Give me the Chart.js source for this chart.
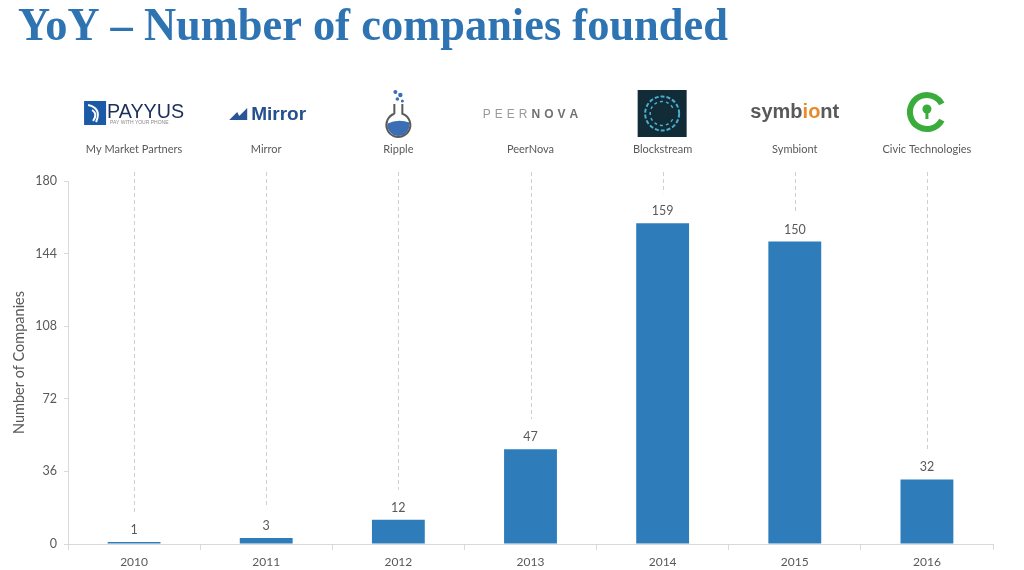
<!DOCTYPE html>
<html>
<head>
<meta charset="utf-8">
<script src="https://cdn.jsdelivr.net/npm/chart.js@4.4.1/dist/chart.umd.min.js"></script>
<style>
  html, body { margin: 0; padding: 0; background: #fff; }
  canvas { display: block; }
</style>
</head>
<body>
<canvas id="chart" width="1024" height="570"></canvas>
<script>
// dados do gráfico
const years = ["2010", "2011", "2012", "2013", "2014", "2015", "2016"];
const counts = [1, 3, 12, 47, 159, 150, 32];
const companies = ["My Market Partners", "Mirror", "Ripple", "PeerNova", "Blockstream", "Symbiont", "Civic Technologies"];
const yTicks = [0, 36, 72, 108, 144, 180];
const chartTitle = "YoY – Number of companies founded";

const textGray = "#595959";
const barBlue = "#2e7dba";

// logos simplificados, desenhados no canvas
function logoPayyus(ctx, cx) {
    const x0 = cx - 50;
    ctx.fillStyle = "#1b5aa6";
    ctx.fillRect(x0, 101, 22, 24);
    ctx.strokeStyle = "#fff";
    ctx.lineWidth = 2;
    ctx.beginPath();
    ctx.moveTo(x0 + 4, 105);
    ctx.quadraticCurveTo(x0 + 18, 108, x0 + 12, 122);
    ctx.stroke();
    ctx.beginPath();
    ctx.moveTo(x0 + 8, 110);
    ctx.quadraticCurveTo(x0 + 14, 114, x0 + 9, 121);
    ctx.stroke();
    ctx.fillStyle = "#1c2f5c";
    ctx.font = "21px 'Liberation Sans'";
    ctx.textAlign = "left";
    ctx.textBaseline = "alphabetic";
    ctx.fillText("PAYYUS", x0 + 23, 118, 77);
    ctx.fillStyle = "#8a8a8a";
    ctx.font = "5px 'Liberation Sans'";
    ctx.fillText("PAY WITH YOUR PHONE", x0 + 26, 124);
}

function logoMirror(ctx, cx) {
    const x0 = cx - 37;
    ctx.fillStyle = "#2b5597";
    ctx.beginPath();
    ctx.moveTo(x0, 120);
    ctx.lineTo(x0 + 8, 112);
    ctx.lineTo(x0 + 10, 116);
    ctx.lineTo(x0 + 18, 108);
    ctx.lineTo(x0 + 18, 120);
    ctx.closePath();
    ctx.fill();
    ctx.fillStyle = "#24508f";
    ctx.font = "bold 19px 'Liberation Sans'";
    ctx.textAlign = "left";
    ctx.textBaseline = "alphabetic";
    ctx.fillText("Mirror", x0 + 22, 120);
}

function logoRipple(ctx, cx) {
    ctx.fillStyle = "#3a6fb5";
    [[-3, 92, 2], [2, 95, 2.2], [-1, 99, 1.8], [4, 101, 1.5]].forEach(b => {
        ctx.beginPath();
        ctx.arc(cx + b[0], b[1], b[2], 0, Math.PI * 2);
        ctx.fill();
    });
    ctx.save();
    ctx.beginPath();
    ctx.arc(cx, 125, 11, 0, Math.PI * 2);
    ctx.clip();
    ctx.fillStyle = "#3a6fb5";
    ctx.beginPath();
    ctx.moveTo(cx - 12, 124);
    ctx.quadraticCurveTo(cx, 118, cx + 12, 123);
    ctx.lineTo(cx + 12, 140);
    ctx.lineTo(cx - 12, 140);
    ctx.closePath();
    ctx.fill();
    ctx.restore();
    ctx.strokeStyle = "#5a5a5a";
    ctx.lineWidth = 2;
    ctx.beginPath();
    ctx.moveTo(cx - 4, 104);
    ctx.lineTo(cx - 4, 114);
    ctx.arc(cx, 125, 12, -Math.PI / 2 - 0.34, -Math.PI / 2 + 0.34 + Math.PI * 2, true);
    ctx.lineTo(cx + 4, 104);
    ctx.stroke();
}

function logoPeerNova(ctx, cx) {
    const parts = [["PEER", "12px 'Liberation Sans'", "#9a9a9a"], ["NOVA", "bold 12px 'Liberation Sans'", "#707070"]];
    const spacing = 4;
    let total = 0;
    parts.forEach(p => {
        ctx.font = p[1];
        for (const ch of p[0]) total += ctx.measureText(ch).width + spacing;
    });
    let x = cx - (total - spacing) / 2;
    ctx.textAlign = "left";
    ctx.textBaseline = "alphabetic";
    parts.forEach(p => {
        ctx.font = p[1];
        ctx.fillStyle = p[2];
        for (const ch of p[0]) {
            ctx.fillText(ch, x, 118);
            x += ctx.measureText(ch).width + spacing;
        }
    });
}

function logoBlockstream(ctx, cx) {
    ctx.fillStyle = "#112b37";
    ctx.fillRect(cx - 25, 90, 49, 47);
    ctx.strokeStyle = "#4bb0cf";
    ctx.lineWidth = 2;
    ctx.setLineDash([4, 2]);
    ctx.beginPath();
    ctx.arc(cx - 0.5, 113.5, 17, 0, Math.PI * 2);
    ctx.stroke();
    ctx.setLineDash([3, 3]);
    ctx.lineWidth = 1.5;
    ctx.beginPath();
    ctx.arc(cx - 0.5, 113.5, 12, 0.5, Math.PI * 2 - 0.3);
    ctx.stroke();
    ctx.setLineDash([]);
}

function logoSymbiont(ctx, cx) {
    const parts = [["symb", "#58595b"], ["io", "#e8892b"], ["nt", "#58595b"]];
    ctx.font = "bold 20px 'Liberation Sans'";
    ctx.textAlign = "left";
    ctx.textBaseline = "alphabetic";
    let total = parts.reduce((s, p) => s + ctx.measureText(p[0]).width, 0);
    let x = cx - total / 2;
    parts.forEach(p => {
        ctx.fillStyle = p[1];
        ctx.fillText(p[0], x, 118);
        x += ctx.measureText(p[0]).width;
    });
}

function logoCivic(ctx, cx) {
    ctx.strokeStyle = "#3aac3c";
    ctx.lineWidth = 6;
    ctx.beginPath();
    ctx.arc(cx, 112, 17, 0.5, Math.PI * 2 - 0.5);
    ctx.stroke();
    ctx.fillStyle = "#3aac3c";
    ctx.beginPath();
    ctx.arc(cx, 109, 4.5, 0, Math.PI * 2);
    ctx.fill();
    ctx.fillRect(cx - 1.5, 110, 3, 9);
}

const logos = [logoPayyus, logoMirror, logoRipple, logoPeerNova, logoBlockstream, logoSymbiont, logoCivic];

// título, logos, linhas tracejadas e rótulos de valores
const decorPlugin = {
    id: "decor",
    afterDatasetsDraw(chart) {
        const ctx = chart.ctx;
        const meta = chart.getDatasetMeta(0);

        ctx.save();
        ctx.fillStyle = "#2e74b3";
        ctx.font = "bold 47px 'Liberation Serif'";
        ctx.textAlign = "left";
        ctx.textBaseline = "alphabetic";
        ctx.fillText(chartTitle, 18, 40, 710);

        meta.data.forEach((bar, i) => {
            // linha tracejada acima da barra
            ctx.strokeStyle = "#cfcfcf";
            ctx.lineWidth = 1;
            ctx.setLineDash([4, 3]);
            ctx.beginPath();
            ctx.moveTo(Math.round(bar.x) + 0.5, 172);
            ctx.lineTo(Math.round(bar.x) + 0.5, bar.y - 30);
            ctx.stroke();
            ctx.setLineDash([]);

            // valor da barra
            ctx.fillStyle = textGray;
            ctx.font = "12.5px Lato";
            ctx.textAlign = "center";
            ctx.textBaseline = "middle";
            ctx.fillText(String(counts[i]), bar.x, bar.y - 12);

            // nome da empresa
            ctx.font = "11px Lato";
            ctx.fillText(companies[i], bar.x, 149);

            logos[i](ctx, bar.x);
        });
        ctx.restore();
    }
};

const ctx = document.getElementById("chart").getContext("2d");
new Chart(ctx, {
    type: "bar",
    data: {
        labels: years,
        datasets: [{
            label: "Number of Companies",
            data: counts,
            backgroundColor: barBlue,
            barPercentage: 0.4,
            categoryPercentage: 1.0,
        }],
    },
    options: {
        responsive: false,
        animation: false,
        layout: { padding: { top: 181, right: 31, left: 0, bottom: 0 } },
        plugins: {
            legend: { display: false },
            tooltip: { enabled: false },
        },
        scales: {
            x: {
                grid: {
                    drawOnChartArea: false,
                    drawTicks: true,
                    tickLength: 6,
                    color: "#d9d9d9",
                },
                border: { color: "#d9d9d9" },
                ticks: {
                    color: textGray,
                    font: { family: "Lato", size: 12 },
                    padding: 5,
                    maxRotation: 0,
                },
                afterFit(scale) { scale.height = 26; },
            },
            y: {
                min: 0,
                max: 180,
                afterBuildTicks(scale) {
                    scale.ticks = yTicks.map(v => ({ value: v }));
                },
                grid: {
                    drawOnChartArea: false,
                    drawTicks: true,
                    tickLength: 4,
                    color: "#d9d9d9",
                },
                border: { color: "#d9d9d9" },
                ticks: {
                    color: textGray,
                    font: { family: "Lato", size: 12.5 },
                    padding: 7,
                },
                title: {
                    display: true,
                    text: "Number of Companies",
                    color: textGray,
                    font: { family: "Lato", size: 14.5 },
                    padding: { top: 11, bottom: 0 },
                },
                afterFit(scale) { scale.width = 68; },
            },
        },
    },
    plugins: [decorPlugin],
});
</script>
</body>
</html>
